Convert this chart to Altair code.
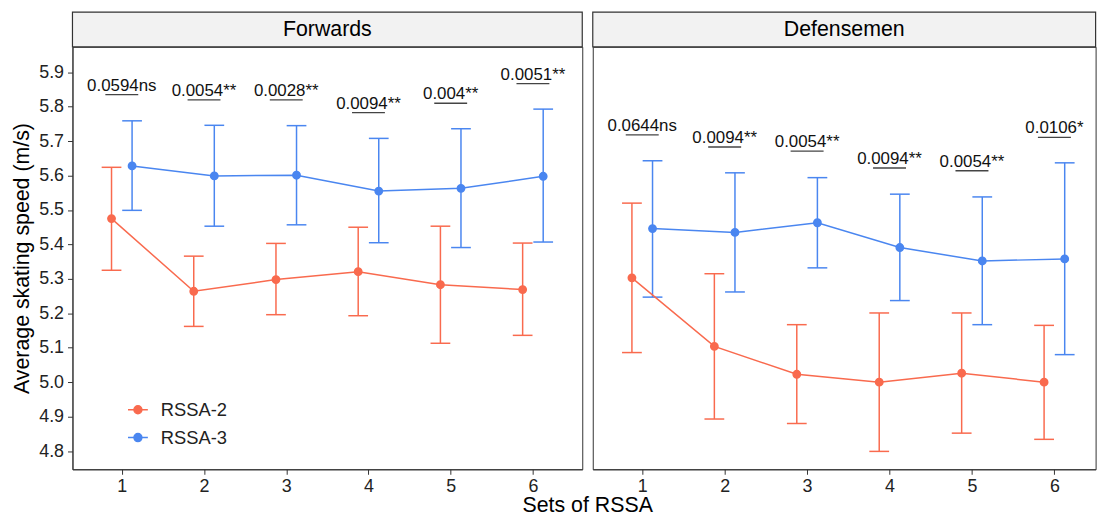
import altair as alt
import pandas as pd

FONT = "Liberation Sans"
RED = "#F96A4E"
BLUE = "#4A86F0"

sets = [1, 2, 3, 4, 5, 6]
groups = ["RSSA-2", "RSSA-3"]
y_ticks = [4.8, 4.9, 5.0, 5.1, 5.2, 5.3, 5.4, 5.5, 5.6, 5.7, 5.8, 5.9]

# Forwards
fwd_r2_mean = [5.475, 5.264, 5.298, 5.321, 5.283, 5.269]
fwd_r2_lo = [5.325, 5.162, 5.196, 5.193, 5.113, 5.136]
fwd_r2_hi = [5.624, 5.366, 5.403, 5.450, 5.453, 5.404]
fwd_r3_mean = [5.628, 5.599, 5.601, 5.555, 5.563, 5.598]
fwd_r3_lo = [5.499, 5.453, 5.457, 5.405, 5.391, 5.407]
fwd_r3_hi = [5.759, 5.746, 5.745, 5.708, 5.736, 5.793]

# Defensemen
def_r2_mean = [5.303, 5.104, 5.023, 5.000, 5.026, 5.000]
def_r2_lo = [5.086, 4.893, 4.880, 4.799, 4.852, 4.834]
def_r2_hi = [5.520, 5.315, 5.167, 5.201, 5.201, 5.165]
def_r3_mean = [5.446, 5.435, 5.463, 5.391, 5.352, 5.358]
def_r3_lo = [5.247, 5.262, 5.332, 5.237, 5.167, 5.080]
def_r3_hi = [5.643, 5.608, 5.594, 5.546, 5.538, 5.637]

fwd_labels = ["0.0594ns", "0.0054**", "0.0028**", "0.0094**", "0.004**", "0.0051**"]
fwd_label_y = [5.835, 5.820, 5.820, 5.783, 5.810, 5.867]
def_labels = ["0.0644ns", "0.0094**", "0.0054**", "0.0094**", "0.0054**", "0.0106*"]
def_label_y = [5.718, 5.683, 5.671, 5.622, 5.614, 5.711]

DODGE = 0.125
CAP = 0.12
BR = 0.2
PLOT_H = 426
STRIP_H = 35


def make_df(r2m, r2l, r2h, r3m, r3l, r3h):
    rows = []
    for g, m, lo, hi, off in [("RSSA-2", r2m, r2l, r2h, -DODGE), ("RSSA-3", r3m, r3l, r3h, DODGE)]:
        for s, a, b, c in zip(sets, m, lo, hi):
            xd = s + off
            rows.append(dict(group=g, set=s, mean=a, lo=b, hi=c, xd=xd, xl=xd - CAP, xr=xd + CAP))
    return pd.DataFrame(rows)


def make_ann(labels, ys):
    return pd.DataFrame(dict(set=sets, label=labels, by=ys,
                             bl=[s - BR for s in sets], br=[s + BR for s in sets]))


LEG_PATH = "M-1,0H1M0.4,0A0.4,0.4,0,1,1,-0.4,0A0.4,0.4,0,1,1,0.4,0Z"


def panel(name, df, ann, width, xmax, left):
    cs = alt.Scale(domain=groups, range=[RED, BLUE])
    xscale = alt.Scale(domain=[0.4, xmax], nice=False, zero=False)
    yscale = alt.Scale(domain=[4.747, 5.974], nice=False, zero=False)
    if left:
        xaxis = alt.Axis(values=sets, format="d", title="Sets of RSSA", titleX=519, grid=False,
                         tickSize=5, labelPadding=3, titlePadding=0, labelOverlap=False)
        yaxis = alt.Axis(values=y_ticks, format=".1f", title="Average skating speed (m/s)",
                         grid=False, tickSize=5, labelPadding=4, titlePadding=5,
                         labelOverlap=False)
        leg = alt.Legend(title=None, orient="none", legendX=55, legendY=355,
                         symbolType=LEG_PATH, symbolSize=400, symbolStrokeWidth=1.5,
                         labelFontSize=18.5, labelOffset=12, rowPadding=7, padding=0,
                         labelFont=FONT, labelColor="#222222")
    else:
        xaxis = alt.Axis(values=sets, format="d", title=None, grid=False, tickSize=5,
                         labelPadding=3, labelOverlap=False)
        yaxis = None
        leg = None

    def X(f):
        return alt.X(f, scale=xscale, axis=xaxis)

    def Y(f):
        return alt.Y(f, scale=yscale, axis=yaxis)

    col = alt.Color("group:N", scale=cs, legend=leg)
    base = alt.Chart(df)
    bars = base.mark_rule(strokeWidth=1.5).encode(
        x=X("xd:Q"), y=Y("lo:Q"), y2="hi:Q", color=col,
    )
    cap_hi = base.mark_rule(strokeWidth=1.5).encode(
        x=X("xl:Q"), x2="xr:Q", y=Y("hi:Q"), color=col,
    )
    cap_lo = base.mark_rule(strokeWidth=1.5).encode(
        x=X("xl:Q"), x2="xr:Q", y=Y("lo:Q"), color=col,
    )
    line = base.mark_line(strokeWidth=1.5).encode(
        x=X("xd:Q"), y=Y("mean:Q"), color=col, detail="group:N",
    )
    pts = base.mark_point(filled=True, size=55, opacity=1, strokeWidth=1.5).encode(
        x=X("xd:Q"), y=Y("mean:Q"), color=col,
        stroke=alt.Stroke("group:N", scale=cs, legend=leg),
    )
    abase = alt.Chart(ann)
    brk = abase.mark_rule(color="#444444", strokeWidth=1.3).encode(
        x=X("bl:Q"), x2="br:Q", y=Y("by:Q"))
    txt = abase.mark_text(fontSize=17, font=FONT, color="#111111", baseline="alphabetic", dy=-4).encode(
        x=X("set:Q"), y=Y("by:Q"), text="label:N")

    sdf = pd.DataFrame({"strip": [name]})
    strip = alt.Chart(sdf).mark_rect(fill="#F2F2F2", stroke="#333333", strokeWidth=1.2).encode(
        x=alt.value(0), x2=alt.value(width), y=alt.value(-STRIP_H), y2=alt.value(0))
    stxt = alt.Chart(sdf).mark_text(fontSize=21.5, font=FONT, color="#000000", baseline="middle").encode(
        x=alt.value(width / 2), y=alt.value(-STRIP_H / 2 + 0.5), text="strip:N")

    return alt.layer(bars, cap_hi, cap_lo, line, pts, brk, txt, strip, stxt).properties(
        width=width, height=PLOT_H)


left = panel("Forwards",
             make_df(fwd_r2_mean, fwd_r2_lo, fwd_r2_hi, fwd_r3_mean, fwd_r3_lo, fwd_r3_hi),
             make_ann(fwd_labels, fwd_label_y), 514, 6.6, True)
right = panel("Defensemen",
              make_df(def_r2_mean, def_r2_lo, def_r2_hi, def_r3_mean, def_r3_lo, def_r3_hi),
              make_ann(def_labels, def_label_y), 507, 6.5, False)

chart = alt.hconcat(left, right, spacing=10.6, bounds="flush").resolve_scale(
    color="independent", stroke="independent", x="independent", y="independent"
).properties(
    padding={"left": 3, "top": 0, "right": 0, "bottom": 0}
).configure(
    font=FONT
).configure_view(
    stroke="#333333", strokeWidth=1
).configure_axis(
    labelFont=FONT, titleFont=FONT, labelFontSize=18, titleFontSize=21.5,
    titleFontWeight="normal", labelColor="#222222", titleColor="#000000",
    domainColor="#333333", tickColor="#333333", domainWidth=1, tickWidth=1,
)

chart.save("out.html", embed_options={"renderer": "svg", "actions": False})
